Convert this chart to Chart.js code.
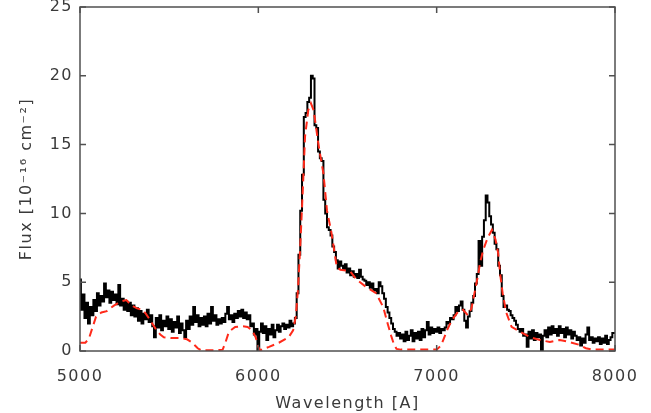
<!DOCTYPE html>
<html>
<head>
<meta charset="utf-8">
<script src="https://cdn.jsdelivr.net/npm/chart.js@4.4.1/dist/chart.umd.min.js"></script>
<style>
  html, body { margin: 0; padding: 0; background: #ffffff; }
  #wrap { width: 651px; height: 413px; position: relative; }
</style>
</head>
<body>
<div id="wrap"><canvas id="c" width="651" height="413"></canvas></div>
<script>
// Observed spectrum: regular wavelength grid
const waveStart = 5000;
const waveStep = 10;
const flux = [
  5.2, 3.0, 4.1, 2.4, 3.5, 2.0, 3.2, 2.6, 3.7, 2.9,
  4.2, 3.3, 4.0, 3.6, 4.9, 3.9, 4.4, 3.5, 4.3, 3.7,
  4.1, 3.4, 4.8, 3.3, 3.8, 3.0, 3.6, 2.9, 3.5, 2.6,
  3.3, 2.5, 3.1, 2.2, 2.9, 2.0, 2.7, 2.3, 3.0, 2.1,
  2.6, 1.8, 1.0, 2.4, 1.7, 2.6, 1.5, 2.2, 1.8, 2.5,
  1.6, 2.3, 1.4, 2.1, 1.7, 2.5, 1.3, 2.0, 1.5, 1.0,
  2.2, 1.6, 2.5, 1.9, 3.2, 2.1, 2.6, 1.8, 2.4, 1.9,
  2.5, 1.8, 2.7, 2.0, 3.2, 2.2, 2.6, 1.9, 2.3, 2.0,
  2.4, 2.1, 2.7, 3.2, 2.3, 2.6, 2.1, 2.7, 2.4, 2.9,
  2.5, 3.0, 2.4, 2.8, 2.3, 2.6, 1.8, 2.0, 1.2, 1.6,
  0.0, 1.4, 2.0, 1.3, 1.8, 0.8, 1.6, 1.2, 1.9, 1.0,
  1.5, 1.9, 1.4, 1.8, 2.0, 1.6, 1.9, 1.7, 2.2, 1.8,
  2.0, 2.4, 4.2, 7.0, 10.2, 12.8, 17.0, 17.3, 18.1, 18.4,
  20.0, 19.8, 16.4, 16.2, 14.5, 14.0, 13.8, 11.0, 10.0, 9.0,
  8.8, 8.4, 7.6, 7.2, 6.6, 6.0, 6.5, 6.2, 5.9, 6.3,
  5.7, 6.0, 5.5, 5.8, 5.4, 5.6, 5.3, 5.9, 5.4, 5.2,
  5.1, 4.8, 5.0, 4.6, 4.9, 4.4, 4.5, 4.2, 5.0, 4.7,
  4.2, 3.8, 3.2, 2.8, 2.4, 2.0, 1.6, 1.4, 1.1, 1.3,
  0.9, 1.2, 0.7, 1.4, 0.8, 1.1, 1.5, 0.7, 1.3, 0.9,
  1.4, 0.8, 1.6, 1.0, 1.5, 2.1, 1.2, 1.7, 1.3, 1.6,
  1.4, 1.7, 1.3, 1.6, 1.5, 1.7, 2.1, 2.0, 2.4, 2.3,
  2.6, 3.2, 2.9, 3.3, 3.6, 3.0, 2.2, 1.7, 2.5, 2.9,
  3.5, 4.0, 4.9, 5.6, 8.0, 6.2, 8.3, 9.5, 11.3, 10.8,
  9.8, 9.2, 8.6, 7.8, 7.4, 6.2, 5.5, 4.0, 3.2, 3.3,
  3.0, 2.9, 2.6, 2.4, 2.2, 1.9, 1.6, 1.4, 1.6, 1.1,
  1.2, 0.3, 1.4, 0.9, 1.5, 0.8, 1.3, 1.0, 1.2, 0.0,
  1.1, 1.5, 1.0, 1.7, 1.2, 1.8, 1.3, 1.6, 1.1, 1.8,
  1.3, 1.6, 1.0, 1.7, 1.2, 1.5, 0.9, 1.4, 1.1, 0.8,
  1.0, 0.4, 0.9, 0.6, 1.2, 1.7, 0.8, 1.0, 0.6, 0.9,
  0.7, 1.0, 0.5, 0.9, 0.6, 1.1, 0.5, 0.8, 1.0, 1.3,
  1.3
];

// Model (red dashed)
const modelWave = [
  5000, 5030, 5050, 5070, 5090, 5120, 5150, 5190, 5230, 5260,
  5290, 5320, 5350, 5370, 5390, 5410, 5430, 5450, 5470, 5510,
  5560, 5600, 5625, 5645, 5660, 5680, 5760, 5800, 5815, 5835,
  5870, 5910, 5940, 5965, 5985, 6000, 6010, 6060, 6115, 6170,
  6195, 6210, 6222, 6235, 6250, 6262, 6280, 6295, 6310, 6320,
  6335, 6345, 6365, 6385, 6410, 6440, 6460, 6515, 6550, 6600,
  6660, 6700, 6725, 6745, 6760, 6775, 6800, 7000, 7025, 7040,
  7058, 7085, 7120, 7148, 7175, 7195, 7215, 7232, 7243, 7260,
  7285, 7310, 7330, 7345, 7355, 7370, 7390, 7420, 7467, 7525,
  7580, 7635, 7690, 7745, 7800, 7837, 7877, 8000
];
const modelFlux = [
  0.6, 0.6, 0.9, 1.7, 2.5, 2.8, 2.9, 3.3, 3.6, 3.7,
  3.3, 3.1, 3.0, 2.7, 2.3, 1.9, 1.5, 1.2, 1.0, 0.95,
  0.95, 0.85, 0.65, 0.4, 0.2, 0.05, 0.05, 0.1, 0.6, 1.4,
  1.75, 1.8, 1.75, 1.5, 1.0, 0.3, 0.05, 0.3, 0.6, 1.0,
  1.5, 2.5, 4.4, 7.6, 11.9, 15.6, 17.5, 18.0, 17.5, 16.6,
  15.2, 14.4, 12.9, 10.2, 8.6, 6.1, 5.9, 5.8, 5.2, 4.7,
  4.2, 3.2, 2.0, 1.1, 0.5, 0.15, 0.1, 0.1, 0.4, 0.9,
  1.5, 2.25, 2.85, 3.0, 2.6, 3.1, 4.4, 5.5, 6.4, 7.3,
  8.2, 8.8, 8.1, 7.1, 5.7, 4.2, 2.8, 1.75, 1.4, 1.0,
  0.8, 0.65, 0.8, 0.65, 0.45, 0.2, 0.1, 0.1
];

const xTicks = [5000, 6000, 7000, 8000];
const yTicks = [0, 5, 10, 15, 20, 25];

const xTitle = 'Wavelength [A]';
const yTitle = 'Flux [10\u207B\u00B9\u2076 cm\u207B\u00B2]';

const obsPoints = flux.map((v, i) => ({ x: waveStart + i * waveStep, y: v }));
const modelPoints = modelWave.map((w, i) => ({ x: w, y: modelFlux[i] }));

const FONT = "'DejaVu Sans', sans-serif";
const TEXT = '#3a3a3a';
const AXIS = '#505050';

const spacing = {
  id: 'spacing',
  beforeLayout(chart) { chart.ctx.letterSpacing = '1.5px'; },
  beforeDraw(chart) { chart.ctx.letterSpacing = '1.5px'; }
};

const frame = {
  id: 'frame',
  afterDatasetsDraw(chart) {
    const { ctx, chartArea: a, scales } = chart;
    ctx.save();
    ctx.strokeStyle = AXIS;
    ctx.lineWidth = 1.5;
    ctx.strokeRect(a.left, a.top, a.right - a.left, a.bottom - a.top);
    const len = 6;
    ctx.beginPath();
    xTicks.forEach(v => {
      const px = scales.x.getPixelForValue(v);
      ctx.moveTo(px, a.bottom); ctx.lineTo(px, a.bottom - len);
      ctx.moveTo(px, a.top); ctx.lineTo(px, a.top + len);
    });
    yTicks.forEach(v => {
      const py = scales.y.getPixelForValue(v);
      ctx.moveTo(a.left, py); ctx.lineTo(a.left + len, py);
      ctx.moveTo(a.right, py); ctx.lineTo(a.right - len, py);
    });
    ctx.stroke();
    ctx.restore();
  }
};

new Chart(document.getElementById('c'), {
  type: 'line',
  data: {
    datasets: [
      {
        label: 'model',
        data: modelPoints,
        borderColor: '#ff2a1a',
        borderWidth: 2,
        borderDash: [8, 5],
        pointRadius: 0,
        tension: 0,
        fill: false,
        order: 0
      },
      {
        label: 'observed',
        data: obsPoints,
        borderColor: '#000000',
        borderWidth: 2,
        stepped: 'middle',
        pointRadius: 0,
        fill: false,
        order: 1
      }
    ]
  },
  options: {
    responsive: false,
    animation: false,
    devicePixelRatio: 1,
    layout: { padding: { left: 0, right: 36, top: 7, bottom: 0 } },
    plugins: { legend: { display: false }, tooltip: { enabled: false } },
    scales: {
      x: {
        type: 'linear',
        min: 5000, max: 8000,
        afterBuildTicks(scale) { scale.ticks = xTicks.map(v => ({ value: v })); },
        afterFit(scale) { scale.height = 62; scale.paddingLeft = 0; scale.paddingRight = 0; },
        grid: { display: false, drawTicks: false },
        border: { display: false },
        ticks: { color: TEXT, padding: 16, font: { family: FONT, size: 16 }, maxRotation: 0,
                 callback: v => String(v) },
        title: { display: true, text: xTitle, color: TEXT, font: { family: FONT, size: 16 }, padding: { top: 8, bottom: 0 } }
      },
      y: {
        type: 'linear',
        min: 0, max: 25,
        afterBuildTicks(scale) { scale.ticks = yTicks.map(v => ({ value: v })); },
        afterFit(scale) { scale.width = 80; scale.paddingTop = 0; scale.paddingBottom = 0; },
        grid: { display: false, drawTicks: false },
        border: { display: false },
        ticks: { color: TEXT, padding: 7, font: { family: FONT, size: 16, lineHeight: 1 },
                 callback: v => String(v) },
        title: { display: true, text: yTitle, color: TEXT, font: { family: FONT, size: 16 }, padding: { top: 17, bottom: 0 } }
      }
    }
  },
  plugins: [spacing, frame]
});
</script>
</body>
</html>
